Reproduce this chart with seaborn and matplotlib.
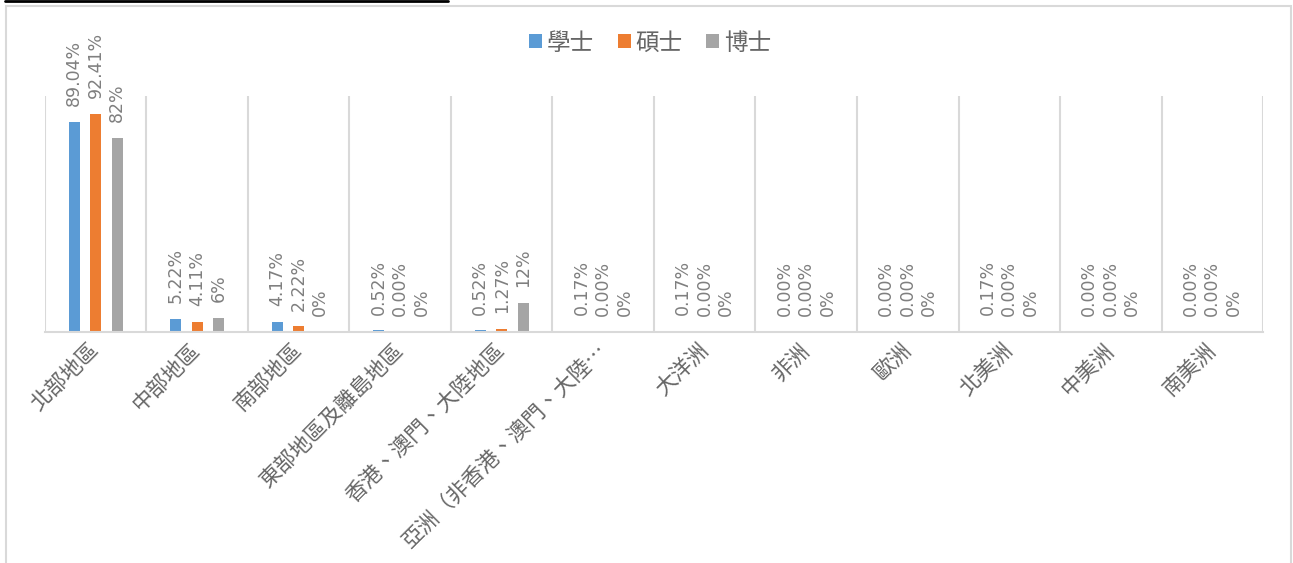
import matplotlib
matplotlib.use("Agg")
import matplotlib.pyplot as plt
from matplotlib.patches import Rectangle
from matplotlib.lines import Line2D
import seaborn as sns
import pandas as pd

# ---------------------------------------------------------
# DATA
# ---------------------------------------------------------
regions = ['北部地區', '中部地區', '南部地區', '東部地區及離島地區', '香港、澳門、大陸地區',
           '亞洲（非香港、澳門、大陸…', '大洋洲', '非洲', '歐洲', '北美洲', '中美洲', '南美洲']
degrees = ['學士', '碩士', '博士']
bachelor = [89.04, 5.22, 4.17, 0.52, 0.52, 0.17, 0.17, 0.00, 0.00, 0.17, 0.00, 0.00]
master = [92.41, 4.11, 2.22, 0.00, 1.27, 0.00, 0.00, 0.00, 0.00, 0.00, 0.00, 0.00]
doctor = [82, 6, 0, 0, 12, 0, 0, 0, 0, 0, 0, 0]
label_fmt = {'學士': '{:.2f}%', '碩士': '{:.2f}%', '博士': '{:.0f}%'}
colors = ['#5B9BD5', '#ED7D31', '#A5A5A5']

df = pd.DataFrame({
    'region': regions * 3,
    'degree': [d for d in degrees for _ in regions],
    'pct': bachelor + master + doctor,
})

# ---------------------------------------------------------
# PLOTTING
# ---------------------------------------------------------
sns.set_theme(style="white")
plt.rcParams['font.family'] = ['Noto Sans CJK TC', 'DejaVu Sans']

fig = plt.figure(figsize=(12.93, 5.63), dpi=100)
ax = fig.add_axes([0.0348, 0.4108, 0.942, 0.4187])

sns.barplot(data=df, x='region', y='pct', hue='degree', order=regions,
            hue_order=degrees, palette=colors, saturation=1,
            width=0.635, gap=0.47, linewidth=0, ax=ax)

ax.set_ylim(0, 100)
ax.set_xlim(-0.5, len(regions) - 0.5)
ax.set_yticks([])
ax.set_xlabel('')
ax.set_ylabel('')

# category separators as vertical grid lines
ax.set_xticks([i - 0.5 for i in range(len(regions) + 1)], minor=True)
ax.grid(True, which='minor', axis='x', color='#D9D9D9', lw=1.5)
ax.grid(False, which='major')
ax.tick_params(axis='x', which='both', length=0)
for s in ['top', 'right', 'left']:
    ax.spines[s].set_visible(False)
ax.spines['bottom'].set_color('#D9D9D9')
ax.spines['bottom'].set_linewidth(1.5)

ax.set_xticks(range(len(regions)))
ax.set_xticklabels(regions, rotation=45, ha='right', va='center',
                   rotation_mode='anchor', fontsize=15.5, color='#666666',
                   fontweight='light')
ax.tick_params(axis='x', pad=11)

# data labels
for cont, deg in zip(ax.containers, degrees):
    vals = df.loc[df['degree'] == deg, 'pct'].tolist()
    ax.bar_label(cont, labels=[label_fmt[deg].format(v) for v in vals],
                 rotation=90, padding=11.5, fontsize=12.5, color='#7F7F7F',
                 family='DejaVu Sans')

leg = ax.legend(loc='center', bbox_to_anchor=(0.503, 1 - 43 / 563),
                bbox_transform=fig.transFigure, ncol=3, frameon=False,
                fontsize=17, handlelength=0.55, handleheight=0.55,
                handletextpad=0.2, columnspacing=1.0, labelcolor='#666666')
for t in leg.get_texts():
    t.set_fontweight('light')

# chart frame and the black rule on top
fig.add_artist(Rectangle((6 / 1293, -0.02), 1285 / 1293, 1.02 - 6 / 563,
                         transform=fig.transFigure, fill=False,
                         edgecolor='#D9D9D9', lw=1.5))
fig.add_artist(Line2D([5 / 1293, 448 / 1293], [1 - 1 / 563, 1 - 1 / 563],
                      transform=fig.transFigure, color='black', lw=2))

fig.savefig('out.png', dpi=100)
